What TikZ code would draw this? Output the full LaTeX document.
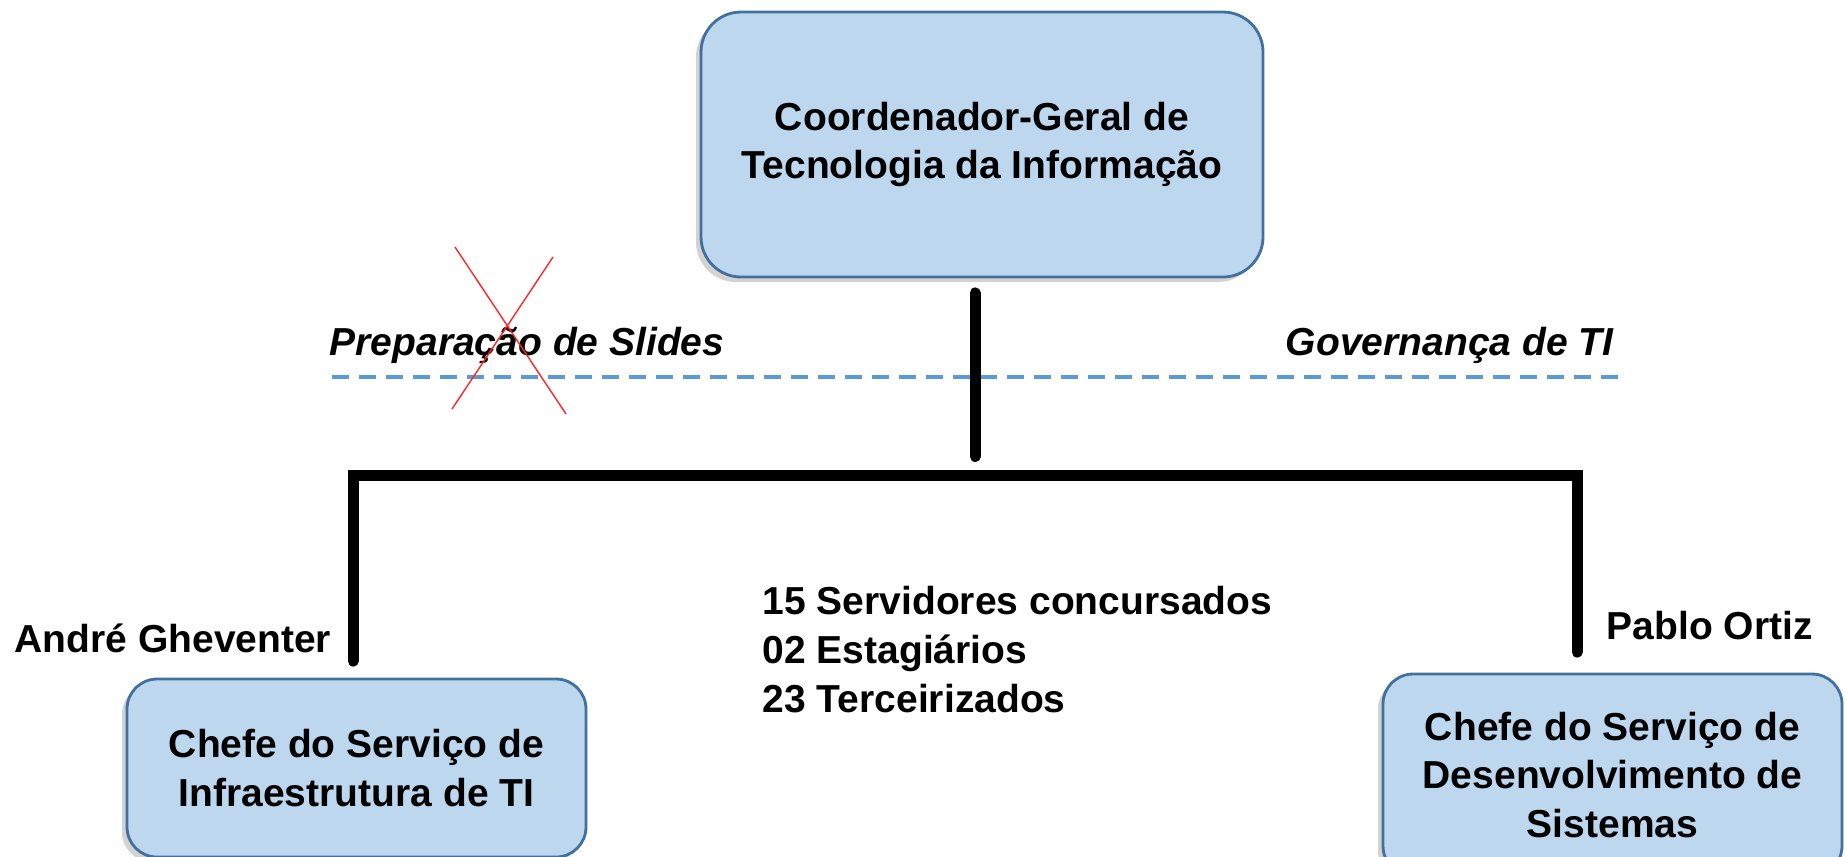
\documentclass[tikz,border=0pt]{standalone}
\usepackage{fontspec}
\setmainfont{Liberation Sans}
\usetikzlibrary{positioning, shadows}
\definecolor{boxfill}{RGB}{189,215,238}
\definecolor{boxline}{RGB}{65,113,156}
\definecolor{dashblue}{RGB}{91,155,213}
\tikzstyle{orgbox} = [draw=boxline, fill=boxfill, line width=0.8pt, align=center, rounded corners=3mm, drop shadow={shadow xshift=-0.5mm, shadow yshift=-0.5mm, opacity=0.35}]
\tikzstyle{orgline} = [line width=1.1mm, line cap=round]
\tikzstyle{lbl} = [inner sep=0pt]
\tikzstyle{guide} = [dashblue, line width=0.45mm, dash pattern=on 1.7mm off 1mm]
\tikzstyle{cross} = [red!85, line width=0.4pt]

\begin{document}
\begin{tikzpicture}[font=\fontsize{11.1pt}{13.9pt}\selectfont\bfseries]
        \useasboundingbox (0,0) rectangle (18.45,-8.56);
        \clip (0,0) rectangle (18.45,-8.56);

        % Coordinator
        \node[orgbox, rounded corners=4mm, minimum width=56.2mm, minimum height=26.5mm] (coord) at (9.82,-1.445) {Coordenador-Geral de\\Tecnologia da Informação};

        % Areas
        \node[lbl, anchor=base west] (prep) at (3.29,-3.55) {\itshape Preparação de Slides};
        \node[lbl, anchor=base east] (gov) at (16.14,-3.55) {\itshape Governança de TI};
        \coordinate (sep-l) at (3.32,-3.77);
        \coordinate (sep-r) at (16.21,-3.77);
        \draw[guide] (sep-l) -- (sep-r);
        \draw[cross] (4.55,-2.47) -- (5.66,-4.14);
        \draw[cross] (5.53,-2.57) -- (4.52,-4.09);

        % Services
        \node[orgbox, minimum width=45.9mm, minimum height=17.8mm] (infra) at (3.565,-7.68) {Chefe do Serviço de\\Infraestrutura de TI};
        \node[orgbox, minimum width=45.9mm, minimum height=20.2mm] (dev) at (16.125,-7.75) {Chefe do Serviço de\\Desenvolvimento de\\Sistemas};

        % Names and staff
        \node[lbl, anchor=base west] (andre) at (0.14,-6.52) {André Gheventer};
        \node[lbl, anchor=base west] (pablo) at (16.06,-6.39) {Pablo Ortiz};
        \node[lbl, anchor=base west, align=left] (staff) at (7.62,-7.12) {15 Servidores concursados\\02 Estagiários\\23 Terceirizados};

        % Lines
        \coordinate (split) at (9.75,-4.75);
        \coordinate (split-l) at (3.53,-4.75);
        \coordinate (split-r) at (15.77,-4.75);
        \draw[orgline, shorten <=1.45mm, shorten >=1.85mm] (split |- coord.south) -- (split);
        \draw[orgline, shorten <=1.65mm, shorten >=2.05mm] (split-l |- infra.north) -- (split-l) -- (split-r) -- (split-r |- dev.north);
    \end{tikzpicture}
\end{document}
